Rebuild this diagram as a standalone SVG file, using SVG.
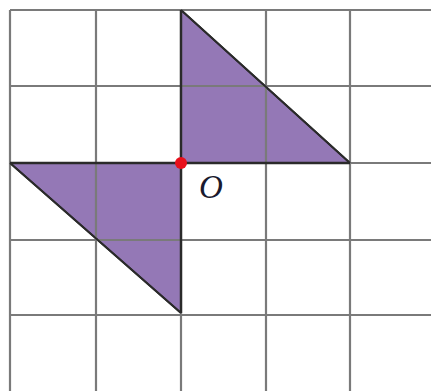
<svg xmlns="http://www.w3.org/2000/svg" width="431" height="391" viewBox="0 0 431 391">
<style>
.grid line{stroke:#7a7a7a;stroke-width:2.2}
.shape{fill:#9478b6;stroke:#2a2a2a;stroke-width:1.8;stroke-linejoin:round}
.edge{stroke:#2a2a2a;stroke-width:2.4;fill:none}
</style>
<rect width="431" height="391" fill="#ffffff"/>
<g id="shapes">
<polygon id="tri-upper" class="shape" points="181,10 181,163 350,163"/>
<polygon id="tri-lower" class="shape" points="10,163 181,163 181,313"/>
</g>
<g class="grid">
<line x1="10" y1="10" x2="431" y2="10"/>
<line x1="10" y1="86" x2="431" y2="86"/>
<line x1="10" y1="163" x2="431" y2="163"/>
<line x1="10" y1="240" x2="431" y2="240"/>
<line x1="10" y1="315" x2="431" y2="315"/>
<line x1="10" y1="10" x2="10" y2="391"/>
<line x1="96" y1="10" x2="96" y2="391"/>
<line x1="181" y1="10" x2="181" y2="391"/>
<line x1="266" y1="10" x2="266" y2="391"/>
<line x1="350" y1="10" x2="350" y2="391"/>
</g>
<g id="outlines">
<line class="edge" x1="181" y1="10" x2="181" y2="313"/>
<line class="edge" x1="10" y1="163" x2="350" y2="163"/>
<line class="edge" x1="181" y1="10" x2="350" y2="163" style="stroke-width:1.8"/>
<line class="edge" x1="10" y1="163" x2="181" y2="313" style="stroke-width:1.8"/>
</g>
<g id="O">
<circle cx="181" cy="163" r="6" fill="#e8101c"/>
<text x="199" y="198" font-family="Liberation Serif, serif" font-style="italic" font-size="33" fill="#1a1a2e">O</text>
</g>
</svg>
